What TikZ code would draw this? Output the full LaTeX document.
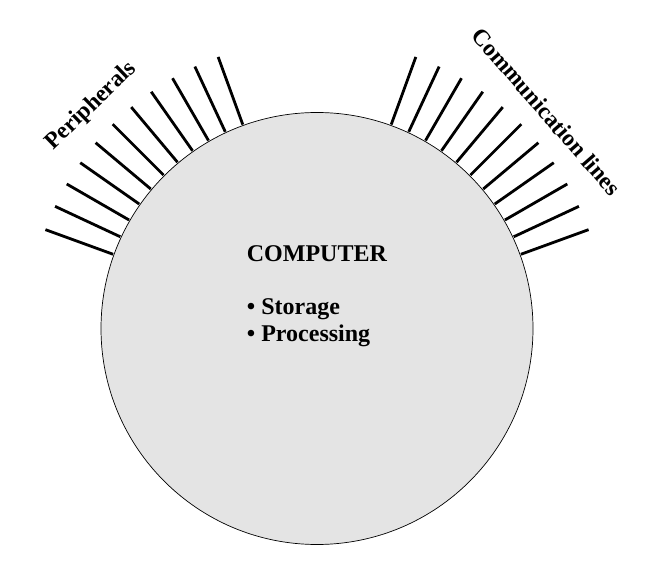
\documentclass[tikz,border=0pt]{standalone}
\usepackage{fontspec}
\setmainfont{Liberation Serif}
\usetikzlibrary{calc}
\definecolor{cfill}{RGB}{228,228,228}
\begin{document}
\begin{tikzpicture}[x=1pt,y=1pt,
  spoke/.style={line width=2.8pt},
  body/.style={circle,draw=black,line width=0.7pt,fill=cfill,minimum size=432pt,inner sep=0pt},
  lbl/.style={font=\bfseries\fontsize{23.5}{26}\selectfont,inner sep=0pt},
  txt/.style={font=\bfseries\fontsize{24}{27}\selectfont,inner sep=0pt,anchor=base west}]
\useasboundingbox (0,0) rectangle (645,560);
\coordinate (c) at (317,231.5);
\node[body] (comp) at (c) {};
\foreach \a in {110,115,...,160} {
  \draw[spoke] ($(c)+(\a:217)$) coordinate (pi\a) -- ($(c)+(\a:289)$) coordinate (po\a);
}
\foreach \a in {20,25,...,70} {
  \draw[spoke] ($(c)+(\a:217)$) coordinate (ci\a) -- ($(c)+(\a:289)$) coordinate (co\a);
}
\node[lbl,rotate=44] (per) at (91.5,454) {Peripherals};
\node[lbl,rotate=-49] (com) at (546.5,448.3) {Communication lines};
\node[txt] (title) at (246.7,298.3) {COMPUTER};
\node[txt] (stor) at (246.7,245) {\textbullet\ Storage};
\node[txt] (proc) at (246.7,218.3) {\textbullet\ Processing};
\end{tikzpicture}
\end{document}
